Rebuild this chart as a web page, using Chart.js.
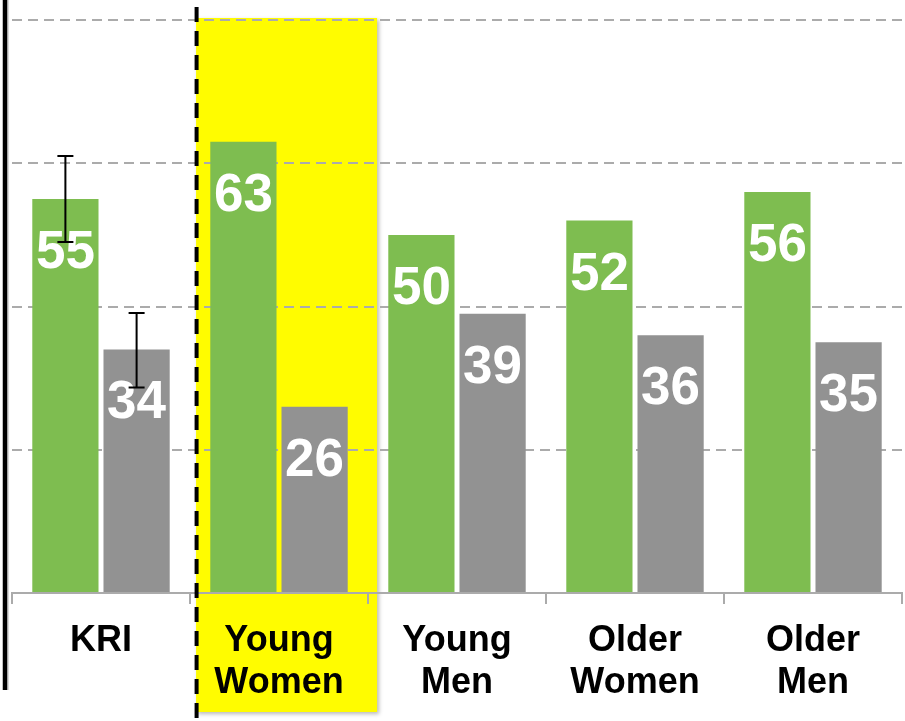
<!DOCTYPE html>
<html>
<head>
<meta charset="utf-8">
<script src="https://cdn.jsdelivr.net/npm/chart.js@4"></script>
<style>
  html, body { margin: 0; padding: 0; background: #ffffff; }
  canvas { display: block; }
</style>
</head>
<body>
<canvas id="grafico" width="905" height="721"></canvas>
<script>
// Dados do gráfico
const categorias = ['KRI', ['Young', 'Women'], ['Young', 'Men'], ['Older', 'Women'], ['Older', 'Men']];
const valoresVerde = [55, 63, 50, 52, 56];
const valoresCinza = [34, 26, 39, 36, 35];
// barras de erro (só KRI)
const erroVerdeMin = [49, null, null, null, null];
const erroVerdeMax = [61, null, null, null, null];
const erroCinzaMin = [28.7, null, null, null, null];
const erroCinzaMax = [39.1, null, null, null, null];
const eixoY = { min: 0, max: 80, passo: 20 };

const fonte = '"Liberation Sans", Arial, Helvetica, sans-serif';

// Retângulo amarelo de destaque atrás do gráfico
const destaque = {
  id: 'destaque',
  beforeDraw(chart) {
    const { ctx, scales: { x }, chartArea } = chart;
    const cx = x.getPixelForValue(1);
    const w = x.getPixelForValue(1) - x.getPixelForValue(0);
    const esq = cx - w * 0.466;
    const dir = cx + w * 0.551;
    ctx.save();
    ctx.shadowColor = 'rgba(0,0,0,0.28)';
    ctx.shadowBlur = 4;
    ctx.shadowOffsetX = 2;
    ctx.shadowOffsetY = 2;
    ctx.fillStyle = '#FFFC00';
    ctx.fillRect(esq, chartArea.top - 2, dir - esq, chart.height - 9 - (chartArea.top - 2));
    ctx.restore();
  }
};

// Rótulos brancos dentro das barras e barras de erro
const rotulos = {
  id: 'rotulos',
  afterDatasetsDraw(chart) {
    const { ctx, scales: { y } } = chart;
    ctx.save();
    ctx.fillStyle = '#ffffff';
    ctx.font = 'bold 53px ' + fonte;
    ctx.textAlign = 'center';
    ctx.textBaseline = 'alphabetic';
    chart.data.datasets.forEach((ds, di) => {
      chart.getDatasetMeta(di).data.forEach((bar, i) => {
        ctx.fillText(String(ds.data[i]), bar.x, bar.y + 69);
      });
    });

    const erros = [[erroVerdeMin, erroVerdeMax], [erroCinzaMin, erroCinzaMax]];
    ctx.strokeStyle = '#000000';
    ctx.lineWidth = 2;
    erros.forEach(([mins, maxs], di) => {
      chart.getDatasetMeta(di).data.forEach((bar, i) => {
        if (mins[i] == null) return;
        const y1 = y.getPixelForValue(maxs[i]);
        const y2 = y.getPixelForValue(mins[i]);
        ctx.beginPath();
        ctx.moveTo(bar.x, y1); ctx.lineTo(bar.x, y2);
        ctx.moveTo(bar.x - 8, y1); ctx.lineTo(bar.x + 8, y1);
        ctx.moveTo(bar.x - 8, y2); ctx.lineTo(bar.x + 8, y2);
        ctx.stroke();
      });
    });
    ctx.restore();
  }
};

// Linhas verticais pretas (borda esquerda e tracejada)
const linhas = {
  id: 'linhas',
  afterDraw(chart) {
    const { ctx, scales: { x } } = chart;
    const w = x.getPixelForValue(1) - x.getPixelForValue(0);
    const xt = x.getPixelForValue(1) - w * 0.463;
    ctx.save();
    ctx.strokeStyle = 'rgba(0,0,0,0.15)';
    ctx.lineWidth = 2;
    ctx.beginPath(); ctx.moveTo(8, 0); ctx.lineTo(8, 690); ctx.stroke();
    ctx.strokeStyle = '#000000';
    ctx.lineWidth = 4.5;
    ctx.beginPath(); ctx.moveTo(5, 0); ctx.lineTo(5, 690); ctx.stroke();
    ctx.lineWidth = 4;
    ctx.setLineDash([15, 9]);
    ctx.beginPath(); ctx.moveTo(xt, 7); ctx.lineTo(xt, chart.height); ctx.stroke();
    ctx.restore();
  }
};

const ctx = document.getElementById('grafico').getContext('2d');
const grafico = new Chart(ctx, {
  type: 'bar',
  data: {
    labels: categorias,
    datasets: [
      { data: valoresVerde, backgroundColor: '#7EBD50', categoryPercentage: 0.8, barPercentage: 0.93 },
      { data: valoresCinza, backgroundColor: '#929292', categoryPercentage: 0.8, barPercentage: 0.93 }
    ]
  },
  options: {
    responsive: false,
    animation: false,
    layout: { padding: { left: 12, right: 3, top: 20, bottom: 0 } },
    plugins: {
      legend: { display: false },
      tooltip: { enabled: false }
    },
    scales: {
      x: {
        offset: true,
        grid: {
          offset: true,
          drawOnChartArea: false,
          drawTicks: true,
          tickLength: 11,
          color: '#ABABAB',
          lineWidth: 2
        },
        border: { display: true, color: '#ABABAB', width: 2 },
        ticks: {
          color: '#000000',
          padding: 16,
          maxRotation: 0,
          font: { family: fonte, size: 36, weight: 'bold', lineHeight: 1.17 }
        },
        afterFit(scale) { scale.height = 128; }
      },
      y: {
        min: eixoY.min,
        max: eixoY.max,
        ticks: { display: false, stepSize: eixoY.passo },
        grid: { color: '#ABABAB', lineWidth: 2, drawTicks: false },
        border: { display: false, dash: [10, 6] },
        afterFit(scale) { scale.width = 0; }
      }
    }
  },
  plugins: [destaque, rotulos, linhas]
});
</script>
</body>
</html>
